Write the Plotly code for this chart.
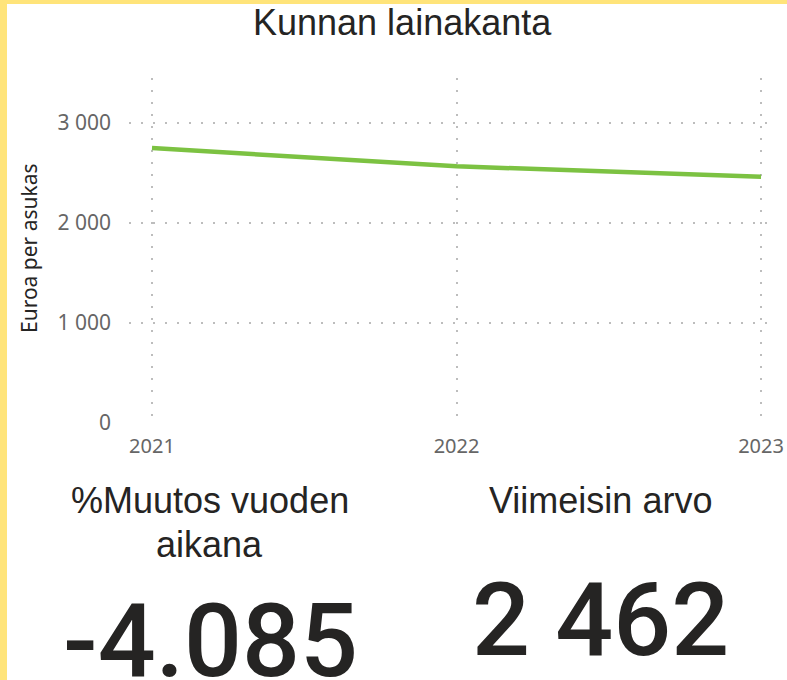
import plotly.graph_objects as go

# ---- data ----
years = [2021, 2022, 2023]
lainakanta = [2750, 2567, 2462]
y_ticks = [0, 1000, 2000, 3000]
y_tick_labels = ["0", "1 000", "2 000", "3 000"]
x_tick_labels = ["2021", "2022", "2023"]
title_text = "Kunnan lainakanta"
y_title = "Euroa per asukas"
card1_label = ["%Muutos vuoden", "aikana"]
card1_value = "-4.085"
card2_label = "Viimeisin arvo"
card2_value = "2 462"

W, H = 787, 680
ML, MR, MT, MB = 129, 15, 78, 257
PW = W - ML - MR
PH = H - MT - MB


def px(xp):
    return (xp - ML) / PW


def py(yp):
    return (H - MB - yp) / PH


TXT = "#252423"
GRID = "#BDBDBD"
YELLOW = "#FFE47A"

fig = go.Figure()
fig.add_trace(go.Scatter(
    x=years, y=lainakanta, mode="lines",
    line=dict(color="#7CC242", width=4.5),
    hoverinfo="skip", showlegend=False,
))

fig.update_layout(
    width=W, height=H,
    margin=dict(l=ML, r=MR, t=MT, b=MB, autoexpand=False),
    paper_bgcolor="white", plot_bgcolor="white",
    showlegend=False,
    xaxis=dict(
        range=[2020.9245, 2023.036],
        tickvals=years, ticktext=x_tick_labels,
        showgrid=True, gridcolor=GRID, griddash="2px,10px", gridwidth=1.5,
        zeroline=False, showline=False, ticks="", automargin=False,
        tickfont=dict(family="Noto Sans", size=20, color="#666666"),
        ticklabelstandoff=9,
    ),
    yaxis=dict(
        range=[0, 3450],
        tickvals=y_ticks, ticktext=y_tick_labels,
        showgrid=True, gridcolor=GRID, griddash="2px,10px", gridwidth=1.5,
        zeroline=False, showline=False, ticks="", automargin=False,
        tickfont=dict(family="Noto Sans", size=21, color="#666666"),
        ticklabelstandoff=17,
    ),
)

# yellow frame strips (left and top)
fig.add_shape(type="rect", xref="paper", yref="paper",
              x0=px(0), x1=px(7), y0=py(H), y1=py(0),
              fillcolor=YELLOW, line=dict(width=0), layer="above")
fig.add_shape(type="rect", xref="paper", yref="paper",
              x0=px(0), x1=px(W), y0=py(4), y1=py(0),
              fillcolor=YELLOW, line=dict(width=0), layer="above")


def ann(text, x, y, family, size, color=TXT, angle=0, weight="normal"):
    fig.add_annotation(text=text, xref="paper", yref="paper",
                       x=px(x), y=py(y), xanchor="center", yanchor="middle",
                       showarrow=False, textangle=angle,
                       font=dict(family=family, size=size, color=color,
                                 weight=weight))


ann(title_text, 402, 23, "Liberation Sans", 36)
ann(y_title, 29, 248, "Noto Sans", 21, color=TXT, angle=-90)
ann(card1_label[0], 210, 500, "Liberation Sans", 36)
ann(card1_label[1], 209, 544, "Liberation Sans", 36)
ann(card2_label, 600, 500, "Liberation Sans", 36)
ann(card1_value, 210, 641, "Roboto", 102, weight=500)
ann(card2_value, 600, 620, "Roboto", 102, weight=500)

fig.write_html("out.html",
               config={"displayModeBar": False},
               post_script="document.body.style.margin='0';"
                           "document.body.style.overflow='hidden';")
